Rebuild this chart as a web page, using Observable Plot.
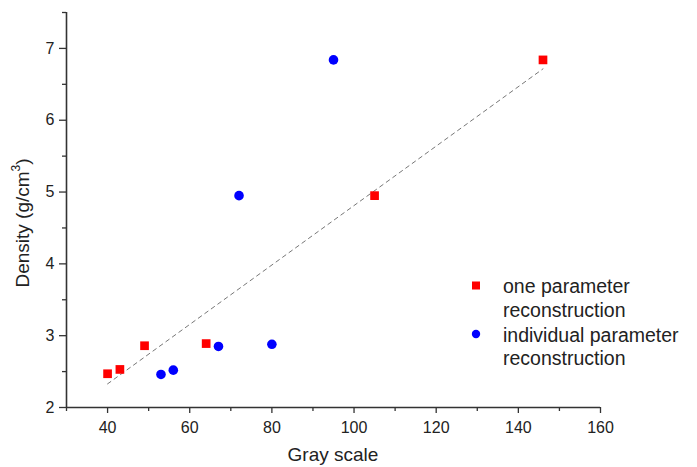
<!DOCTYPE html>
<html><head><meta charset="utf-8">
<script src="https://cdn.jsdelivr.net/npm/d3@7"></script>
<script src="https://cdn.jsdelivr.net/npm/@observablehq/plot@0.6"></script>
<style>
body{margin:0;background:#fff}
svg{font-family:"Liberation Sans",Arial,sans-serif}
</style>
</head><body><div id="chart"></div>
<script>
const grayOne = [40, 43, 49, 64, 105, 146];
const densityOne = [2.47, 2.53, 2.86, 2.89, 4.95, 6.84];
const grayInd = [53, 56, 67, 80, 72, 95];
const densityInd = [2.46, 2.52, 2.85, 2.88, 4.95, 6.84];
const xTicks = [40, 60, 80, 100, 120, 140, 160];
const xMinor = [30, 50, 70, 90, 110, 130, 150];
const yTicks = [2, 3, 4, 5, 6, 7];
const yMinor = [2.5, 3.5, 4.5, 5.5, 6.5, 7.5];
const seriesNames = [["one parameter", "reconstruction"], ["individual parameter", "reconstruction"]];
const xTitle = "Gray scale";
const yTitle = "Density (g/cm";

const one = grayOne.map((x, i) => ({x, y: densityOne[i]}));
const ind = grayInd.map((x, i) => ({x, y: densityInd[i]}));

const chart = Plot.plot({
  width: 697, height: 467,
  marginLeft: 66, marginRight: 97, marginTop: 12, marginBottom: 60,
  style: {fontFamily: '"Liberation Sans", Arial, sans-serif', background: "#fff"},
  x: {domain: [30, 160]},
  y: {domain: [2, 7.5]},
  marks: [
    Plot.axisX({ticks: xTicks, tickSize: 6, tickPadding: 8, label: null, fontSize: 16, stroke: "#333", fill: "#222", strokeWidth: 1.3, tickFormat: d => String(d)}),
    Plot.axisX({ticks: xMinor, tickSize: 4, tickFormat: () => "", label: null, stroke: "#333", strokeWidth: 1.3}),
    Plot.axisY({ticks: yTicks, tickSize: 7, tickPadding: 5, label: null, fontSize: 16, stroke: "#333", fill: "#222", strokeWidth: 1.3, tickFormat: d => String(d)}),
    Plot.axisY({ticks: yMinor, tickSize: 4, tickFormat: () => "", label: null, stroke: "#333", strokeWidth: 1.3}),
    Plot.ruleX([30], {stroke: "#333", strokeWidth: 1.6}),
    Plot.ruleY([2], {stroke: "#333", strokeWidth: 1.6}),
    Plot.linearRegressionY(one, {x: "x", y: "y", ci: 0, stroke: "#777", strokeWidth: 1, strokeDasharray: "4,4"}),
    Plot.dot(one, {x: "x", y: "y", symbol: "square", fill: "#ff0000", r: 4.9}),
    Plot.dot(ind, {x: "x", y: "y", symbol: "circle", fill: "#0000ff", r: 4.8})
  ]
});

const svg = d3.select(chart);
// axis titles
svg.append("text").attr("x", 333).attr("y", 461).attr("text-anchor", "middle")
  .attr("font-size", 19).attr("fill", "#222").text(xTitle);
const yt = svg.append("text").attr("transform", "translate(29,223) rotate(-90)")
  .attr("text-anchor", "middle").attr("font-size", 19).attr("fill", "#222");
yt.append("tspan").text(yTitle);
yt.append("tspan").attr("font-size", 12).attr("dy", -9).text("3");
yt.append("tspan").attr("dy", 9).text(")");

// legend
const lg = svg.append("g").attr("font-size", 19.5).attr("fill", "#222").attr("text-anchor", "start");
lg.append("rect").attr("x", 472).attr("y", 281.5).attr("width", 8).attr("height", 8).attr("fill", "#ff0000");
lg.append("circle").attr("cx", 476).attr("cy", 334).attr("r", 4.2).attr("fill", "#0000ff");
[[293, 316.5], [341.5, 365]].forEach((ys, i) => {
  seriesNames[i].forEach((t, j) => {
    lg.append("text").attr("x", 503).attr("y", ys[j]).attr("text-anchor", "start").text(t);
  });
});

document.getElementById("chart").appendChild(chart);
</script>
</body></html>
